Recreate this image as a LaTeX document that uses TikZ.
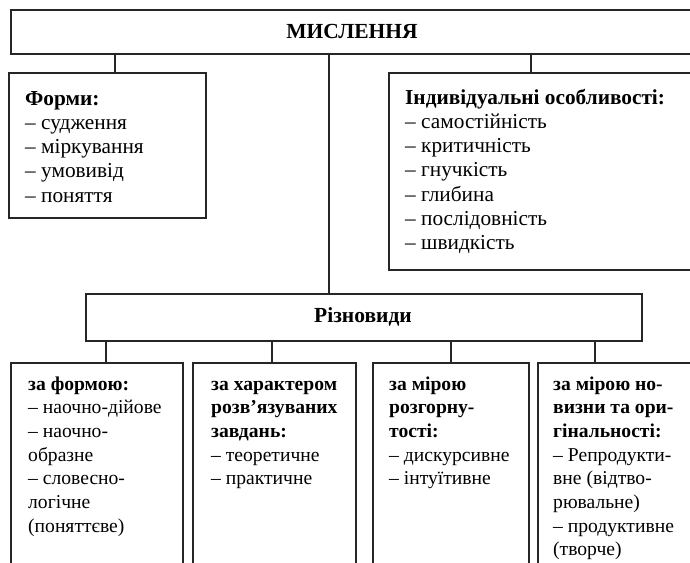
\documentclass[tikz,border=0pt]{standalone}
\usepackage{fontspec}
\setmainfont{Liberation Serif}
\begin{document}
\begin{tikzpicture}[x=1pt,y=-1pt,
  boxline/.style={draw=black!85,line width=1.6pt},
  conn/.style={draw=black!85,line width=1.5pt},
  txt/.style={anchor=base west,inner sep=0pt,font=\fontsize{21.3}{24.3}\selectfont},
  btxt/.style={anchor=base west,inner sep=0pt,font=\fontsize{19.6}{23.7}\selectfont},
  ttl/.style={inner sep=0pt,font=\fontsize{21.5}{24}\selectfont\bfseries}]
\clip (0,0) rectangle (690,562);
\fill[white] (0,0) rectangle (690,562);
% boxes
\node[boxline,minimum width=690pt,minimum height=44pt,anchor=north west,inner sep=0pt] (top) at (10,9) {};
\node[boxline,minimum width=197pt,minimum height=145pt,anchor=north west,inner sep=0pt] (forms) at (8,72) {};
\node[boxline,minimum width=320pt,minimum height=197pt,anchor=north west,inner sep=0pt] (indiv) at (388,72) {};
\node[boxline,minimum width=556pt,minimum height=47pt,anchor=north west,inner sep=0pt] (rizn) at (85,293) {};
\node[boxline,minimum width=172pt,minimum height=230pt,anchor=north west,inner sep=0pt] (b1) at (10,362) {};
\node[boxline,minimum width=163pt,minimum height=230pt,anchor=north west,inner sep=0pt] (b2) at (192,362) {};
\node[boxline,minimum width=156pt,minimum height=230pt,anchor=north west,inner sep=0pt] (b3) at (372,362) {};
\node[boxline,minimum width=170pt,minimum height=230pt,anchor=north west,inner sep=0pt] (b4) at (537,362) {};
% titles
\node[ttl] (ttop) at (352,31) {МИСЛЕННЯ};
\node[ttl] (trizn) at (363,316.5) {Різновиди};
% connector x positions
\coordinate (c1) at (115,0);
\coordinate (c2) at (329,0);
\coordinate (c3) at (531,0);
\coordinate (d1) at (106,0);
\coordinate (d2) at (272,0);
\coordinate (d3) at (451,0);
\coordinate (d4) at (595,0);
\draw[conn] (top.south -| c1) -- (forms.north -| c1);
\draw[conn] (top.south -| c2) -- (rizn.north -| c2);
\draw[conn] (top.south -| c3) -- (indiv.north -| c3);
\draw[conn] (rizn.south -| d1) -- (b1.north -| d1);
\draw[conn] (rizn.south -| d2) -- (b2.north -| d2);
\draw[conn] (rizn.south -| d3) -- (b3.north -| d3);
\draw[conn] (rizn.south -| d4) -- (b4.north -| d4);
% texts
\node[txt] (tforms) at (25,105) {\begin{tabular}[t]{@{}l@{}}\textbf{Форми:}\\– судження\\– міркування\\– умовивід\\– поняття\end{tabular}};
\node[txt] (tindiv) at (405,104) {\begin{tabular}[t]{@{}l@{}}\textbf{Індивідуальні особливості:}\\– самостійність\\– критичність\\– гнучкість\\– глибина\\– послідовність\\– швидкість\end{tabular}};
\node[btxt] (tb1) at (28,390) {\begin{tabular}[t]{@{}l@{}}\textbf{за формою:}\\– наочно-дійове\\– наочно-\\образне\\– словесно-\\логічне\\(поняттєве)\end{tabular}};
\node[btxt] (tb2) at (211,390) {\begin{tabular}[t]{@{}l@{}}\textbf{за характером}\\\textbf{розв’язуваних}\\\textbf{завдань:}\\– теоретичне\\– практичне\end{tabular}};
\node[btxt] (tb3) at (389,390) {\begin{tabular}[t]{@{}l@{}}\textbf{за мірою}\\\textbf{розгорну-}\\\textbf{тості:}\\– дискурсивне\\– інтуїтивне\end{tabular}};
\node[btxt] (tb4) at (553,390) {\begin{tabular}[t]{@{}l@{}}\textbf{за мірою но-}\\\textbf{визни та ори-}\\\textbf{гінальності:}\\– Репродукти-\\вне (відтво-\\рювальне)\\– продуктивне\\(творче)\end{tabular}};
\end{tikzpicture}
\end{document}
